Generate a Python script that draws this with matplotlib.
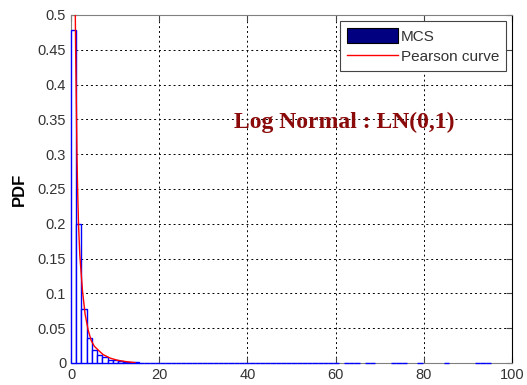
import matplotlib
matplotlib.use("Agg")
import matplotlib.pyplot as plt
from matplotlib.patches import Patch
from matplotlib.lines import Line2D

# histogram (MCS) - bin number and height, bin width ~1.19
bin_width = 1.19
bin_no = list(range(0, 51)) + [52, 53, 54, 56, 57, 61, 62, 63, 66, 71, 77, 78, 79]
bin_height = [0.478, 0.200, 0.078, 0.036, 0.019, 0.012, 0.008, 0.005, 0.004, 0.003,
              0.002, 0.0015, 0.001, 0.0006, 0.0004, 0.0003, 0.0002, 0.0001, 0.0001, 0.0,
              0.0, 0.0, 0.0, 0.0, 0.0, 0.0, 0.0, 0.0, 0.0, 0.0,
              0.0, 0.0, 0.0, 0.0, 0.0, 0.0, 0.0, 0.0, 0.0, 0.0,
              0.0, 0.0, 0.0, 0.0, 0.0, 0.0, 0.0, 0.0, 0.0, 0.0,
              0.0,
              0.0, 0.0, 0.0, 0.0, 0.0, 0.0, 0.0, 0.0, 0.0, 0.0, 0.0, 0.0, 0.0]

# Pearson curve
curve_x = [0.95, 1.05, 1.2, 1.35, 1.5, 1.7, 2.0, 2.6, 3.2, 3.9, 4.6, 5.3, 6.1, 7.3,
           8.9, 10.5, 12.5, 14.5]
curve_y = [0.52, 0.45, 0.38, 0.30, 0.25, 0.20, 0.155, 0.104, 0.07, 0.047, 0.032, 0.024,
           0.019, 0.012, 0.007, 0.004, 0.002, 0.0005]

yticks = [0, 0.05, 0.1, 0.15, 0.2, 0.25, 0.3, 0.35, 0.4, 0.45, 0.5]
ytick_labels = ['0', '0.05', '0.1', '0.15', '0.2', '0.25', '0.3', '0.35', '0.4', '0.45', '0.5']
xticks = [0, 20, 40, 60, 80, 100]

plt.rcParams['font.family'] = ['Liberation Sans', 'DejaVu Sans']

fig = plt.figure(figsize=(5.27, 3.85), dpi=100)
ax = fig.add_axes([71/527, 1-363/385, (512-71)/527, (363-15)/385])

lefts = [b*bin_width for b in bin_no]
bars = ax.bar(lefts, bin_height, width=bin_width, align='edge', facecolor='white',
              edgecolor='blue', linewidth=1.0, zorder=2.6)
for b in bars:
    b.set_clip_on(False)
ax.plot(curve_x, curve_y, color='red', linewidth=1.0, zorder=3)

ax.set_xlim(0, 100)
ax.set_ylim(0, 0.5)
ax.set_xticks(xticks)
ax.set_yticks(yticks)
ax.set_yticklabels(ytick_labels)
ax.tick_params(direction='in', top=True, right=True, labelsize=10.5, labelcolor='#333333',
               length=4, color='#444444')
ax.grid(True, color='black', linestyle=(0, (2, 3)), linewidth=0.7)
for s in ['top', 'left', 'bottom']:
    ax.spines[s].set_color('#808080')
ax.spines['right'].set_color('black')

ax.set_ylabel('PDF', fontsize=12, fontweight='bold', labelpad=8)

ax.text(0.62, 0.69, 'Log Normal : LN(0,1)', transform=ax.transAxes,
        fontsize=17, fontweight='bold', color='#8B0A0A', ha='center', va='center',
        family=['Liberation Serif', 'DejaVu Serif'])

handles = [Patch(facecolor='#000080', edgecolor='black', linewidth=0.8),
           Line2D([0], [0], color='red', linewidth=1.0)]
leg = ax.legend(handles, ['MCS', 'Pearson curve'], loc='upper right', fontsize=11,
                fancybox=False, framealpha=1, edgecolor='#444444', borderaxespad=0.4,
                handlelength=3.3, handleheight=1.1, handletextpad=0.2, labelspacing=0.35,
                borderpad=0.45)
leg.get_frame().set_linewidth(0.8)
leg.set_zorder(5)
for t in leg.get_texts():
    t.set_color('#333333')

fig.savefig('out.png', dpi=100)
